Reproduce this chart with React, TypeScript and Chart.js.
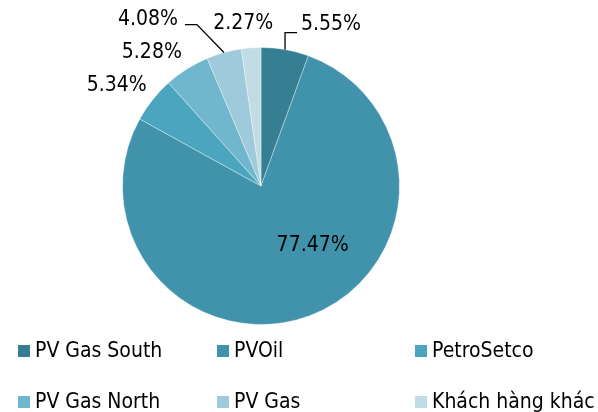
import React, { useEffect, useRef } from "react";
import { Chart, registerables } from "chart.js";

Chart.register(...registerables);

const categories = ["PV Gas South", "PVOil", "PetroSetco", "PV Gas North", "PV Gas", "Khách hàng khác"];
const shares = [5.55, 77.47, 5.34, 5.28, 4.08, 2.27];
const colors = ["#367F93", "#4193AB", "#4BA5BF", "#70B6CC", "#9FCADB", "#C2DCE5"];

// label placement relative to slice outer-edge midpoint (style only)
const labelOffsets: [number, number][] = [[46, -25], [3, -70], [-36, -14], [-35, -16], [-76, -33], [-8, -24]];
const leaders: ([number, number][] | null)[] = [
  [[0, 0], [0, -17], [12, -17]],
  null,
  null,
  null,
  [[0, 0], [-27, -28], [-39, -28]],
  null,
];

const FONT = '"DejaVu Sans Condensed", "DejaVu Sans", sans-serif';

const labelPlugin = {
  id: "pieLabels",
  afterDatasetsDraw(chart: any) {
    const ctx = chart.ctx;
    const meta = chart.getDatasetMeta(0);
    ctx.save();
    meta.data.forEach((arc: any, i: number) => {
      const p = arc.getProps(["x", "y", "startAngle", "endAngle", "outerRadius"], true);
      const mid = (p.startAngle + p.endAngle) / 2;
      const ex = p.x + Math.cos(mid) * p.outerRadius;
      const ey = p.y + Math.sin(mid) * p.outerRadius;
      const ld = leaders[i];
      if (ld) {
        ctx.beginPath();
        ctx.strokeStyle = "#000";
        ctx.lineWidth = 1.3;
        ld.forEach(([dx, dy], k) => {
          if (k === 0) ctx.moveTo(ex + dx, ey + dy);
          else ctx.lineTo(ex + dx, ey + dy);
        });
        ctx.stroke();
      }
      const [ox, oy] = labelOffsets[i];
      ctx.fillStyle = "#000";
      ctx.font = `21px ${FONT}`;
      ctx.textAlign = "center";
      ctx.textBaseline = "middle";
      ctx.fillText(shares[i].toFixed(2) + "%", ex + ox, ey + oy);
    });
    ctx.restore();
  },
};

const legendCols = [18, 217, 415];
const legendRows = [351, 402];

const legendPlugin = {
  id: "gridLegend",
  afterDraw(chart: any) {
    const ctx = chart.ctx;
    ctx.save();
    ctx.font = `21px ${FONT}`;
    ctx.textAlign = "left";
    ctx.textBaseline = "middle";
    categories.forEach((name, i) => {
      const x = legendCols[i % 3];
      const y = legendRows[Math.floor(i / 3)];
      ctx.fillStyle = colors[i];
      ctx.fillRect(x, y - 6, 12, 12);
      ctx.fillStyle = "#000";
      ctx.fillText(name, x + 17, y + 1);
    });
    ctx.restore();
  },
};

export default function App() {
  const ref = useRef<HTMLCanvasElement | null>(null);
  useEffect(() => {
    if (!ref.current) return;
    const chart = new Chart(ref.current, {
      type: "pie",
      data: {
        labels: categories,
        datasets: [
          {
            data: shares,
            backgroundColor: colors,
            borderColor: "rgba(255,255,255,0.35)",
            borderWidth: 1,
          },
        ],
      },
      options: {
        animation: false,
        responsive: false,
        layout: { padding: { left: 122, right: 198, top: 47, bottom: 87 } },
        plugins: { legend: { display: false }, tooltip: { enabled: false } },
      },
      plugins: [labelPlugin, legendPlugin],
    });
    return () => chart.destroy();
  }, []);
  return (
    <div style={{ position: "absolute", left: 0, top: 0, width: 598, height: 412, background: "#fff" }}>
      <canvas ref={ref} width={598} height={412} style={{ width: 598, height: 412 }} />
    </div>
  );
}
